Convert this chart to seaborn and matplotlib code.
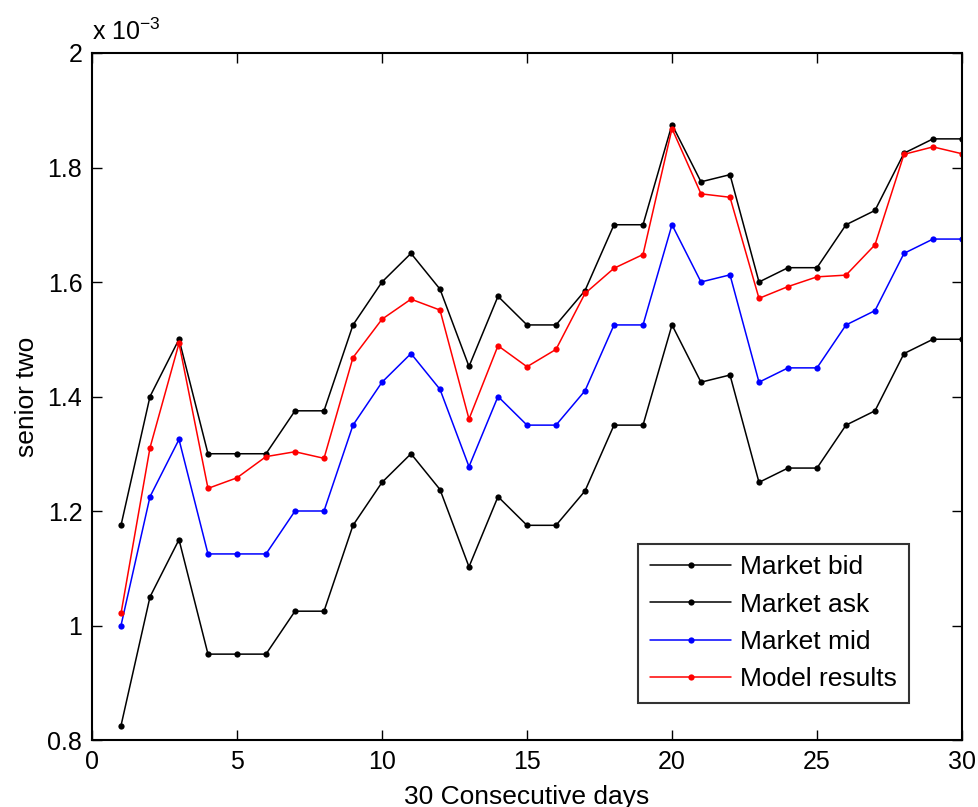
import numpy as np
import pandas as pd
import matplotlib
matplotlib.use("Agg")
import matplotlib.pyplot as plt
from matplotlib.ticker import FuncFormatter
import seaborn as sns

days = list(range(1, 31))
# values in units of 1e-3
market_bid = [1.175, 1.40, 1.50, 1.30, 1.30, 1.30, 1.375, 1.375, 1.525, 1.60,
              1.65, 1.5875, 1.4525, 1.575, 1.525, 1.525, 1.585, 1.70, 1.70, 1.875,
              1.775, 1.7875, 1.60, 1.625, 1.625, 1.70, 1.725, 1.825, 1.85, 1.85]
market_ask = [0.825, 1.05, 1.15, 0.95, 0.95, 0.95, 1.025, 1.025, 1.175, 1.25,
              1.30, 1.2375, 1.1025, 1.225, 1.175, 1.175, 1.235, 1.35, 1.35, 1.525,
              1.425, 1.4375, 1.25, 1.275, 1.275, 1.35, 1.375, 1.475, 1.50, 1.50]
market_mid = [1.00, 1.225, 1.325, 1.125, 1.125, 1.125, 1.20, 1.20, 1.35, 1.425,
              1.475, 1.4125, 1.2775, 1.40, 1.35, 1.35, 1.41, 1.525, 1.525, 1.70,
              1.60, 1.6125, 1.425, 1.45, 1.45, 1.525, 1.55, 1.65, 1.675, 1.675]
model_results = [1.021, 1.3105, 1.493, 1.2395, 1.258, 1.295, 1.3035, 1.292, 1.468, 1.535,
                 1.570, 1.551, 1.3606, 1.4887, 1.452, 1.4823, 1.580, 1.624, 1.648, 1.868,
                 1.754, 1.748, 1.5714, 1.592, 1.609, 1.612, 1.665, 1.823, 1.836, 1.824]

series_names = ["Market bid", "Market ask", "Market mid", "Model results"]
series_vals = [market_bid, market_ask, market_mid, model_results]
colors = {"Market bid": "black", "Market ask": "black",
          "Market mid": "#0000ff", "Model results": "#ff0000"}

df = pd.concat([
    pd.DataFrame({"day": days, "value": np.array(v) * 1e-3, "series": n})
    for n, v in zip(series_names, series_vals)
], ignore_index=True)

sns.set_style("white")
plt.rcParams["font.family"] = ["Liberation Sans", "DejaVu Sans"]
plt.rcParams["mathtext.fontset"] = "custom"
plt.rcParams["mathtext.rm"] = "Liberation Sans"
plt.rcParams["text.color"] = "black"
plt.rcParams["axes.labelcolor"] = "black"
plt.rcParams["xtick.color"] = "black"
plt.rcParams["ytick.color"] = "black"

FS = 18
FL = 19

fig = plt.figure(figsize=(9.79, 8.07), dpi=100)
ax = fig.add_axes([92/979, 67/807, 870/979, 687/807])

sns.lineplot(data=df, x="day", y="value", hue="series", hue_order=series_names,
             palette=colors, marker="o", markersize=4.5, markeredgewidth=0,
             linewidth=1.1, ax=ax, legend=True)

ax.set_xlim(0, 30)
ax.set_ylim(0.8e-3, 2e-3)
ax.set_xticks([0, 5, 10, 15, 20, 25, 30])
ax.set_yticks(np.array([0.8, 1.0, 1.2, 1.4, 1.6, 1.8, 2.0]) * 1e-3)
ax.yaxis.set_major_formatter(FuncFormatter(lambda v, p: "%g" % round(v * 1e3, 6)))
ax.tick_params(direction="in", length=7, width=1, labelsize=FS, top=True, right=True,
               bottom=True, left=True, pad=7)
for s in ax.spines.values():
    s.set_linewidth(1.5)
    s.set_color("black")
    s.set_visible(True)

ax.set_xlabel("30 Consecutive days", fontsize=FL, labelpad=8)
ax.set_ylabel("senior two", fontsize=FL, labelpad=6)
ax.text(0.0, 1.012, r"x 10$^{-3}$", transform=ax.transAxes, fontsize=FS,
        ha="left", va="bottom")

handles, labels = ax.get_legend_handles_labels()
leg = ax.legend(handles, labels, loc="lower right", bbox_to_anchor=(0.939, 0.054),
                borderaxespad=0, fontsize=FL, handlelength=3.1, labelspacing=0.5,
                frameon=True, fancybox=False, edgecolor="black", borderpad=0.45,
                handletextpad=0.33)
leg.get_frame().set_linewidth(1.5)

fig.savefig("out.png", dpi=100, facecolor="white")
